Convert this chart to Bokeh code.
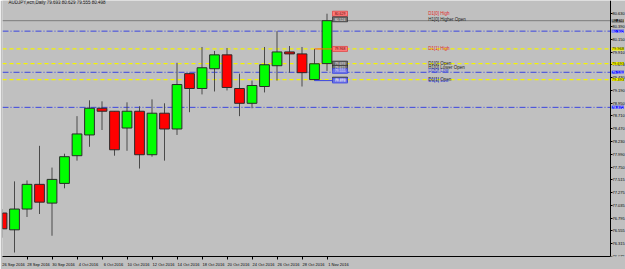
from bokeh.plotting import figure
from bokeh.models import FixedTicker, Label, NumeralTickFormatter
from bokeh.embed import file_html
from bokeh.resources import INLINE
from bokeh.core.properties import value

# ---------------- data ----------------
dates = ["26 Sep 2016", "27 Sep 2016", "28 Sep 2016", "29 Sep 2016", "30 Sep 2016",
         "3 Oct 2016", "4 Oct 2016", "5 Oct 2016", "6 Oct 2016", "7 Oct 2016",
         "10 Oct 2016", "11 Oct 2016", "12 Oct 2016", "13 Oct 2016", "14 Oct 2016",
         "17 Oct 2016", "18 Oct 2016", "19 Oct 2016", "20 Oct 2016", "21 Oct 2016",
         "24 Oct 2016", "25 Oct 2016", "26 Oct 2016", "27 Oct 2016", "28 Oct 2016",
         "31 Oct 2016", "1 Nov 2016"]
opens = [76.889, 76.574, 76.964, 77.427, 77.075, 77.445, 77.965, 78.354, 78.855, 78.799,
         78.484, 78.799, 77.983, 78.762, 78.466, 79.504, 79.226, 79.597, 79.857, 79.226,
         78.948, 79.263, 79.653, 79.912, 79.875, 79.393, 79.693]
highs = [76.964, 77.483, 77.501, 78.150, 77.742, 78.002, 78.707, 79.004, 78.985, 78.799,
         78.966, 78.892, 79.022, 78.948, 79.708, 79.520, 80.005, 79.930, 79.986, 79.504,
         79.374, 80.005, 80.302, 80.023, 80.005, 79.968, 80.629]
lows = [76.426, 76.148, 76.815, 76.871, 76.463, 77.353, 77.872, 78.132, 78.447, 77.965,
        78.057, 77.724, 77.946, 77.872, 78.354, 78.781, 79.115, 79.170, 79.189, 78.707,
        78.855, 79.152, 79.374, 79.523, 79.263, 79.374, 79.555]
closes = [76.593, 76.964, 77.427, 77.093, 77.520, 77.946, 78.373, 78.855, 78.799, 78.076,
          78.799, 77.983, 78.762, 78.466, 79.300, 79.226, 79.615, 79.857, 79.245, 78.948,
          79.282, 79.671, 79.912, 79.875, 79.523, 79.690, 80.498]

y_ticks = [76.075, 76.315, 76.555, 76.795, 77.035, 77.275, 77.515, 77.750, 77.990, 78.230,
           78.470, 78.710, 78.950, 79.190, 79.430, 79.670, 79.910, 80.150, 80.390, 80.630]

bid = 80.498
yellow_levels = [79.968, 79.693, 79.393]
blue_levels = [80.302, 79.530, 78.872]

level_names = ["D1[0] High", "H1[0] Higher Open", "D1[1] High", "D1[0] Open",
               "H1[0] Lower Open", "D1[0] Low", "D1[1] Open", "D1[1] Low"]
level_values = [80.629, 80.524, 79.968, 79.693, 79.615, 79.555, 79.393, 79.374]
level_kinds = ["high", "open", "high", "open", "open", "low", "open", "low"]

title_text = "AUDJPY,ecn,Daily  79.693 80.629 79.555 80.498"

# ---------------- layout ----------------
W, H = 625, 269
LEFT, RIGHT, TOP, BOTTOM = 2, 0, 0, 10
FRAME_W = W - LEFT - RIGHT
FRAME_H = H - TOP - BOTTOM
PX_PER_BAR = 12.5
X0 = 0.04
X1 = X0 + FRAME_W / PX_PER_BAR
AXIS_PX = 608                      # price axis position inside the frame (px from frame left)
X_AXIS = X0 + AXIS_PX / PX_PER_BAR
PRICE_PER_PX = 0.018547
Y1 = 80.877
Y0 = Y1 - FRAME_H * PRICE_PER_PX
FONT = "Liberation Sans"
BG = "#C0C0C0"

n = len(dates)
idx = list(range(n))

p = figure(width=W, height=H, x_range=(X0, X1), y_range=(Y0, Y1),
           output_backend="svg", toolbar_location=None, y_axis_location="right",
           min_border_left=LEFT, min_border_right=RIGHT, min_border_top=TOP,
           min_border_bottom=BOTTOM, background_fill_color=BG, border_fill_color=BG)
p.grid.visible = False
p.outline_line_color = None

# level lines (stop at the price axis)
p.segment(x0=[X0], x1=[X_AXIS], y0=[bid], y1=[bid],
          line_color="#7c7c7c", line_width=1)
p.segment(x0=[X0] * len(yellow_levels), x1=[X_AXIS] * len(yellow_levels),
          y0=yellow_levels, y1=yellow_levels,
          line_color="#F4F400", line_width=1.3, line_dash="4 3")
p.segment(x0=[X0] * len(blue_levels), x1=[X_AXIS] * len(blue_levels),
          y0=blue_levels, y1=blue_levels,
          line_color="#3A45E0", line_width=1, line_dash="6 2 1 2")

# candles
inc = [c >= o for o, c in zip(opens, closes)]
tops = [max(o, c) for o, c in zip(opens, closes)]
bots = [min(o, c) for o, c in zip(opens, closes)]
fills = ["#00FF00" if u else "#FF0000" for u in inc]
p.segment(x0=idx, y0=lows, x1=idx, y1=highs, line_color="#4a4a4a", line_width=1)
p.vbar(x=idx, width=0.78, top=tops, bottom=bots, fill_color=fills,
       line_color="#2a2a2a", line_width=1)

# level annotations near last candle
last = n - 1
BOX_X = last + 1.04
TXT_X = last + 8.1
kind_color = {"high": "#E02828", "open": "#1e1e1e", "low": "#2F3BE0"}
box_fill = {"high": "#FF7C7C", "open": "#6e6e6e", "low": "#6A70E8"}
box_text = {"high": "#6a0000", "open": "#f0f0f0", "low": "#f0f0f0"}

p.segment(x0=[last - 1, last - 1], y0=[level_values[2], level_values[7]],
          x1=[BOX_X - 0.6, BOX_X - 0.6], y1=[level_values[2], level_values[7]],
          line_color=["#FF6A00", "#3A45E0"], line_width=1)
p.rect(x=[BOX_X] * len(level_values), y=level_values, width=15, height=5,
       width_units="screen", height_units="screen",
       fill_color=[box_fill[k] for k in level_kinds],
       line_color=[kind_color[k] for k in level_kinds], line_width=0.6)
p.text(x=[BOX_X] * len(level_values), y=level_values,
       text=[f"{v:.3f}" for v in level_values], text_font=value(FONT),
       text_font_size="3.5px", text_align="center", text_baseline="middle",
       text_color=[box_text[k] for k in level_kinds])
p.text(x=[TXT_X] * len(level_values), y=level_values, text=level_names,
       text_font=value(FONT), text_font_size="4.5px", text_align="left",
       text_baseline="middle", text_color=[kind_color[k] for k in level_kinds])

# title
p.add_layout(Label(x=6, y=FRAME_H - 5, x_units="screen", y_units="screen",
                   text=title_text, text_font=FONT, text_font_size="4.5px",
                   text_color="#101010", text_baseline="middle"))

# right price axis, drawn at a fixed location inside the frame
ya = p.yaxis[0]
ya.fixed_location = X_AXIS
ya.ticker = FixedTicker(ticks=y_ticks)
ya.formatter = NumeralTickFormatter(format="0.000")
ya.major_label_text_font = FONT
ya.major_label_text_font_size = "4px"
ya.major_label_text_color = "#000000"
ya.major_tick_out = 2
ya.major_tick_in = 0
ya.minor_tick_out = 0
ya.minor_tick_in = 0
ya.major_label_standoff = 0
ya.axis_line_color = "#000000"

# coloured price boxes on the price axis
axis_boxes = [(bid, "#000000", "#ffffff")] + \
             [(lv, "#FFFF00", "#000000") for lv in yellow_levels] + \
             [(lv, "#0000FF", "#ffffff") for lv in blue_levels]
for lv, bgc, tc in axis_boxes:
    p.add_layout(Label(x=X_AXIS + 0.1, y=lv, x_units="data", y_units="data",
                       text=f"{lv:.3f}", text_font=FONT, text_font_size="4px",
                       text_color=tc, background_fill_color=bgc,
                       text_baseline="middle"))

# bottom date axis
LABEL_SHIFT = 0.92
label_idx = list(range(0, n, 2))
xa = p.xaxis[0]
xa.bounds = (X0, X_AXIS)
xa.ticker = FixedTicker(ticks=[i + LABEL_SHIFT for i in label_idx], minor_ticks=label_idx)
xa.major_label_overrides = {i + LABEL_SHIFT: dates[i] for i in label_idx}
xa.major_label_text_font = FONT
xa.major_label_text_font_size = "4px"
xa.major_label_text_color = "#000000"
xa.major_tick_out = 0
xa.major_tick_in = 0
xa.minor_tick_out = 3
xa.minor_tick_in = 0
xa.minor_tick_line_color = "#000000"
xa.major_label_standoff = 2
xa.axis_line_color = "#000000"

open("out.html", "w").write(file_html(p, INLINE))
